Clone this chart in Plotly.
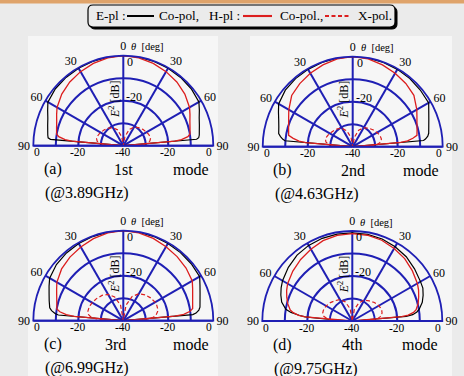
import plotly.graph_objects as go

# ---------------- data (dB vs theta in degrees) ----------------
THETA = [-90, -88, -86, -85, -84, -82, -80, -75, -70, -65, -60, -50, -40, -30, -20, -10, 0,
         10, 20, 30, 40, 50, 60, 65, 70, 75, 80, 82, 84, 85, 86, 88, 90]

# (a) 1st mode @3.89GHz
E_CO_1 = [-40, -40, -40, -7.5, -6.4, -6.1, -5.9, -5.2, -4.3, -2.9, -1.3, -0.6, -0.4, -0.25, -0.12, -0.04, 0,
          -0.04, -0.12, -0.25, -0.4, -0.6, -1.2, -2.7, -4.1, -5.0, -5.7, -5.9, -6.3, -7.3, -40, -40, -40]
H_CO_1 = [-40, -40, -40, -17, -14, -11, -9.9, -9.3, -8.5, -7.3, -6.0, -4.3, -3.0, -2.0, -1.1, -0.4, 0,
          -0.4, -1.1, -2.0, -3.0, -4.3, -6.0, -7.3, -8.5, -9.3, -9.9, -11, -14, -17, -40, -40, -40]
H_X_1 = [-40, -35, -31, -30.2, -29.5, -28.8, -28.2, -27.7, -27.8, -28.0, -28.3, -29, -29.8, -30.8, -32.5, -36, -40,
         -36, -32.3, -30.5, -29.5, -28.7, -28.0, -27.7, -27.5, -27.5, -28, -28.6, -29.3, -30, -30.8, -35, -40]

# (b) 2nd mode @4.63GHz
E_CO_2 = [-40, -40, -40, -9.8, -8.8, -7.6, -6.6, -6.0, -5.0, -3.6, -2.0, -0.9, -0.5, -0.3, -0.15, -0.05, 0,
          -0.05, -0.15, -0.3, -0.5, -0.8, -1.0, -2.7, -4.0, -5.0, -5.7, -6.3, -7.5, -8.4, -40, -40, -40]
H_CO_2 = [-40, -40, -40, -19, -16, -13.3, -11.1, -10.5, -9.7, -8.6, -7.2, -4.6, -3.4, -2.3, -1.3, -0.4, 0,
          -0.4, -1.3, -2.3, -3.3, -4.5, -7.1, -8.5, -9.6, -10.4, -11, -13, -15.5, -18.5, -40, -40, -40]
H_X_2 = [-40, -35, -31, -30.2, -29.3, -28.6, -27.9, -27.5, -27.6, -27.9, -28.2, -28.9, -29.6, -30.6, -32.5, -36, -40,
         -35.8, -32.2, -30.3, -29.2, -28.3, -27.5, -27.1, -26.9, -26.8, -27.3, -28, -28.8, -29.6, -30.5, -34.5, -40]

# (c) 3rd mode @6.99GHz
E_CO_3 = [-40, -40, -40, -11, -9.5, -7.8, -6.8, -5.9, -4.9, -3.6, -2.2, -1.2, -0.7, -0.4, -0.2, -0.05, 0,
          -0.05, -0.2, -0.35, -0.5, -0.6, -0.8, -2.4, -3.7, -4.7, -5.4, -6.1, -7.5, -9, -40, -40, -40]
H_CO_3 = [-40, -40, -40, -18, -14.5, -11.5, -10, -9.4, -8.5, -7.3, -5.9, -4.2, -3.1, -2.2, -1.2, -0.4, 0,
          -0.4, -1.1, -2.0, -2.8, -3.6, -4.6, -6.0, -7.2, -8.1, -8.7, -10, -13, -17, -40, -40, -40]
H_X_3 = [-40, -33, -28, -27, -26, -25, -24.3, -23.7, -23.7, -23.8, -24, -24.6, -25.3, -26.5, -28.8, -33, -40,
         -33, -28.5, -26.2, -25, -24.2, -23.6, -23.6, -23.8, -24.2, -25.2, -26, -27, -28, -29, -33.5, -40]

# (d) 4th mode @9.75GHz
E_CO_4 = [-40, -40, -29, -19, -16.5, -12.5, -10, -7.5, -6.2, -5.1, -4.2, -2.9, -1.8, -1.2, -0.9, -0.8, -0.8,
          -0.9, -1.2, -1.9, -2.7, -3.9, -5.0, -5.4, -6.5, -7.8, -9.8, -11, -13, -16, -40, -40, -40]
H_CO_4 = [-40, -40, -40, -19, -16, -13.5, -12, -10.3, -9, -7.8, -6.8, -5.5, -4.3, -3.2, -2.0, -1.4, -1.2,
          -1.3, -1.8, -2.8, -3.8, -5.2, -6.6, -7.5, -8.6, -9.7, -11.2, -12.5, -15, -18, -40, -40, -40]
H_X_4 = [-40, -34, -30, -29.2, -28.5, -27.8, -27, -26.4, -26.3, -26.4, -26.6, -27.3, -28.2, -29, -31, -34.5, -40,
         -34.8, -31.3, -29.3, -28.3, -27.2, -26.4, -26.2, -26.1, -26.3, -27, -27.7, -28.5, -29.2, -30, -34, -40]

MODES = ["1st", "2nd", "3rd", "4th"]
TAGS = ["(a)", "(b)", "(c)", "(d)"]
FREQS = ["(@3.89GHz)", "(@4.63GHz)", "(@6.99GHz)", "(@9.75GHz)"]
E_CO = [E_CO_1, E_CO_2, E_CO_3, E_CO_4]
H_CO = [H_CO_1, H_CO_2, H_CO_3, H_CO_4]
H_X = [H_X_1, H_X_2, H_X_3, H_X_4]

ANG_TICKS = [-90, -60, -30, 0, 30, 60, 90]
ANG_TEXT = ["90", "60", "30", "0", "30", "60", "90"]
R_MIN, R_MAX = -40, 0
R_GRID = [-30, -20, -10]
BASE_LABELS = [0, -20, -40, -20, 0]

# ---------------- layout geometry ----------------
W, H = 464, 376
R = 90
CENTERS = [(123.3, 145.7), (352.7, 146.7), (123.3, 320.7), (352.3, 321.0)]

BLUE = "#1f1fb4"
RED = "#dc1e1e"
SERIF = "Liberation Serif, Times New Roman, serif"
BG = "#ebebeb"

STYLE_E = dict(color="black", width=1.2)
STYLE_H = dict(color=RED, width=1.3)
STYLE_X = dict(color=RED, width=1.2, dash="4px,2.5px")


def px(x):
    return x / W


def py(y):
    return 1 - y / H


fig = go.Figure()
annotations = []
shapes = []

# page background panels and top band
shapes.append(dict(type="rect", xref="paper", yref="paper", x0=0, x1=1, y0=py(3.5), y1=1,
                   fillcolor="#dfa36a", line=dict(width=0), layer="below"))
for x0, x1 in [(28, 218), (250, 452)]:
    shapes.append(dict(type="rect", xref="paper", yref="paper", x0=px(x0), x1=px(x1), y0=0, y1=py(36),
                       fillcolor="#f6f6f6", line=dict(width=0), layer="below"))

for i, (cx, cy) in enumerate(CENTERS):
    pid = "polar" if i == 0 else f"polar{i + 1}"
    fig.add_trace(go.Scatterpolar(theta=THETA, r=E_CO[i], mode="lines", subplot=pid,
                                  line=STYLE_E, name="E-pl Co-pol", showlegend=False))
    fig.add_trace(go.Scatterpolar(theta=THETA, r=H_CO[i], mode="lines", subplot=pid,
                                  line=STYLE_H, name="H-pl Co-pol", showlegend=False))
    fig.add_trace(go.Scatterpolar(theta=THETA, r=H_X[i], mode="lines", subplot=pid,
                                  line=STYLE_X, name="X-pol", showlegend=False))

    fig.layout[pid] = dict(
        domain=dict(x=[px(cx - R), px(cx + R)], y=[py(cy), py(cy - R)]),
        sector=[0, 180],
        bgcolor="rgba(0,0,0,0)",
        angularaxis=dict(direction="clockwise", rotation=90, tickmode="array",
                         tickvals=ANG_TICKS, ticktext=ANG_TEXT, ticks="",
                         showline=True, linecolor=BLUE, linewidth=1.8,
                         showgrid=True, gridcolor=BLUE, gridwidth=1.7,
                         tickfont=dict(family=SERIF, size=12, color="black")),
        radialaxis=dict(range=[R_MIN, R_MAX], tickmode="array", tickvals=R_GRID,
                        showticklabels=False, ticks="", showline=False,
                        showgrid=True, gridcolor=BLUE, gridwidth=1.7),
    )

    tf = dict(family=SERIF, size=12, color="black")
    sf = dict(family=SERIF, size=11.5, color="black")
    # radial scale labels along the baseline
    for sgn, v in zip([-1, -1, 0, 1, 1], BASE_LABELS):
        frac = (v - R_MIN) / (R_MAX - R_MIN)
        x = cx + sgn * R * frac
        if v == 0:
            x -= sgn * 4
        annotations.append(dict(x=px(x), y=py(cy + 6.5), xref="paper", yref="paper", text=str(v),
                                showarrow=False, font=sf, xanchor="center", yanchor="middle"))
    # radial labels along the vertical axis
    annotations.append(dict(x=px(cx + 2), y=py(cy - 84), xref="paper", yref="paper", text="0",
                            showarrow=False, font=tf, xanchor="left", yanchor="middle"))
    annotations.append(dict(x=px(cx + 1), y=py(cy - 49), xref="paper", yref="paper", text="-20",
                            showarrow=False, font=tf, xanchor="left", yanchor="middle"))
    annotations.append(dict(x=px(cx - 9), y=py(cy - 47), xref="paper", yref="paper",
                            text="<i>E</i><sup>2</sup> [dB]", textangle=-90,
                            showarrow=False, font=tf, xanchor="center", yanchor="middle"))
    annotations.append(dict(x=px(cx + 6), y=py(cy - 99), xref="paper", yref="paper",
                            text="<i>θ</i>&nbsp;&nbsp;[deg]", showarrow=False,
                            font=dict(family=SERIF, size=10.5, color="black"),
                            xanchor="left", yanchor="middle"))
    # panel captions
    bf = dict(family=SERIF, size=16, color="black")
    cap_y = cy + 23.5
    annotations.append(dict(x=px(cx - 70), y=py(cap_y), xref="paper", yref="paper", text=TAGS[i],
                            showarrow=False, font=bf, xanchor="center", yanchor="middle"))
    annotations.append(dict(x=px(cx + (0 if i != 2 else -8)), y=py(cap_y), xref="paper", yref="paper",
                            text=MODES[i], showarrow=False, font=bf, xanchor="center", yanchor="middle"))
    annotations.append(dict(x=px(cx + 68), y=py(cap_y), xref="paper", yref="paper", text="mode",
                            showarrow=False, font=bf, xanchor="center", yanchor="middle"))
    annotations.append(dict(x=px(cx - 80), y=py(cy + 47.5), xref="paper", yref="paper", text=FREQS[i],
                            showarrow=False, font=bf, xanchor="left", yanchor="middle"))


# rounded key frame with drop shadow
def rounded(x0, y0, x1, y1, r):
    return (f"M {px(x0 + r)} {py(y0)} L {px(x1 - r)} {py(y0)} "
            f"Q {px(x1)} {py(y0)} {px(x1)} {py(y0 + r)} L {px(x1)} {py(y1 - r)} "
            f"Q {px(x1)} {py(y1)} {px(x1 - r)} {py(y1)} L {px(x0 + r)} {py(y1)} "
            f"Q {px(x0)} {py(y1)} {px(x0)} {py(y1 - r)} L {px(x0)} {py(y0 + r)} "
            f"Q {px(x0)} {py(y0)} {px(x0 + r)} {py(y0)} Z")


shapes.append(dict(type="path", xref="paper", yref="paper", path=rounded(90, 7, 397, 29, 5),
                   fillcolor="black", line=dict(color="black", width=1)))
shapes.append(dict(type="path", xref="paper", yref="paper", path=rounded(88, 5, 395, 27, 5),
                   fillcolor=BG, line=dict(color="black", width=1.2)))

# key: texts and line samples
KEY_Y = 16
lf = dict(family=SERIF, size=13.2, color="black")
for x, t in [(94, "E-pl :"), (157, "Co-pol,"), (207, "H-pl :"), (278, "Co-pol.,"), (356, "X-pol.")]:
    annotations.append(dict(x=px(x), y=py(KEY_Y), xref="paper", yref="paper", text=t,
                            showarrow=False, font=lf, xanchor="left", yanchor="middle"))
for (x0, x1), st in [((127, 154), STYLE_E), ((243, 272), STYLE_H), ((325, 351), STYLE_X)]:
    shapes.append(dict(type="line", xref="paper", yref="paper", x0=px(x0), x1=px(x1),
                       y0=py(KEY_Y), y1=py(KEY_Y),
                       line=dict(color=st["color"], width=st["width"] + 0.8, dash=st.get("dash", "solid"))))

fig.update_layout(
    width=W, height=H,
    margin=dict(l=0, r=0, t=0, b=0),
    paper_bgcolor=BG,
    plot_bgcolor=BG,
    font=dict(family=SERIF, color="black"),
    showlegend=False,
    shapes=shapes,
    annotations=annotations,
)

fig.write_html("out.html")
